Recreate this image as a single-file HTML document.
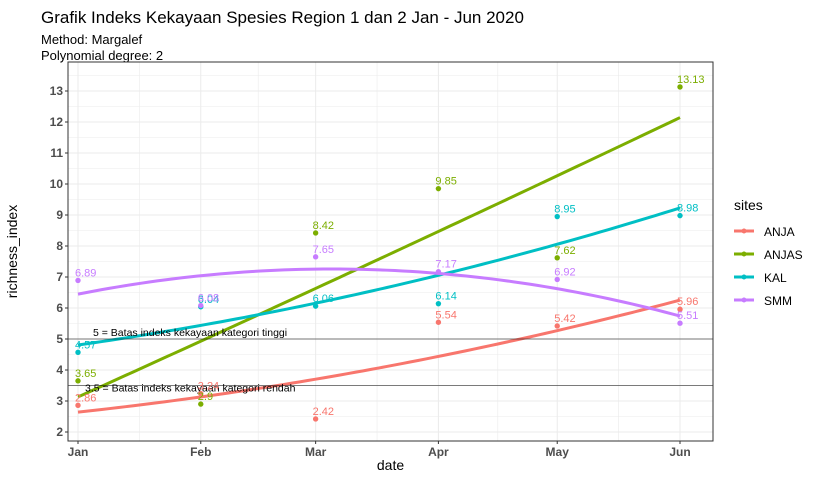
<!DOCTYPE html>
<html><head><meta charset="utf-8"><style>
body{margin:0;background:#fff;font-family:"Liberation Sans",sans-serif}
</style></head><body>
<svg id="chart" width="816" height="480" xmlns="http://www.w3.org/2000/svg">
<text x="41" y="23" font-size="17">Grafik Indeks Kekayaan Spesies Region 1 dan 2 Jan - Jun 2020</text>
<text x="41" y="44" font-size="13">Method: Margalef</text>
<text x="41" y="60" font-size="13">Polynomial degree: 2</text>
<g id="plot"></g>
</svg>
<script>
const months=["Jan","Feb","Mar","Apr","May","Jun"];
const days=[0,31,60,91,121,152];
const siteNames=["ANJA","ANJAS","KAL","SMM"];
const colors=["#F8766D","#7CAE00","#00BFC4","#C77CFF"];
const anja=[2.86,3.24,2.42,5.54,5.42,5.96];
const anjas=[3.65,2.9,8.42,9.85,7.62,13.13];
const kal=[4.57,6.04,6.06,6.14,8.95,8.98];
const smm=[6.89,6.08,7.65,7.17,6.92,5.51];
const yTicks=[2,3,4,5,6,7,8,9,10,11,12,13];
const refLines=[5,3.5];
const refLabels=["5 = Batas indeks kekayaan kategori tinggi","3.5 = Batas indeks kekayaan kategori rendah"];
const series=[anja,anjas,kal,smm];
const L=68,R=713,T=62,B=441;
const x=d=>78+d*(680-78)/152;
const y=v=>432-(v-2)*31;
const NS="http://www.w3.org/2000/svg";
const g=document.getElementById('plot');
function el(t,a,p){const e=document.createElementNS(NS,t);for(const k in a)e.setAttribute(k,a[k]);(p||g).appendChild(e);return e;}
const grid=el('g',{});


for(let v=1.5;v<=13.5;v+=0.5){if(y(v)<T||y(v)>B)continue;el('line',{x1:L,x2:R,y1:y(v),y2:y(v),stroke:'#ebebeb','stroke-width':Number.isInteger(v)?1:0.6},grid);}
for(let i=0;i<days.length;i++){el('line',{x1:x(days[i]),x2:x(days[i]),y1:T,y2:B,stroke:'#ebebeb'},grid);if(i<days.length-1){const m=(days[i]+days[i+1])/2;el('line',{x1:x(m),x2:x(m),y1:T,y2:B,stroke:'#ebebeb','stroke-width':0.6},grid);}}
yTicks.forEach(v=>{const t=el('text',{x:L-5,y:y(v)+4,'text-anchor':'end','font-size':12,fill:'#4d4d4d','font-weight':'bold'});t.textContent=v;


el('line',{x1:L-3,x2:L,y1:y(v),y2:y(v),stroke:'#333'});});
months.forEach((m,i)=>{const t=el('text',{x:x(days[i]),y:B+15,'text-anchor':'middle','font-size':12,fill:'#4d4d4d','font-weight':'bold'});t.textContent=m;


el('line',{x1:x(days[i]),x2:x(days[i]),y1:B,y2:B+3,stroke:'#333'});});
// quadratic fits
function fit(ys){let S=[0,0,0,0,0],Ty=[0,0,0];days.forEach((d,i)=>{const t=d/100;for(let k=0;k<5;k++)S[k]+=t**k;for(let k=0;k<3;k++)Ty[k]+=ys[i]*t**k;});
const A=[[S[0],S[1],S[2],Ty[0]],[S[1],S[2],S[3],Ty[1]],[S[2],S[3],S[4],Ty[2]]];
for(let i=0;i<3;i++){for(let j=i+1;j<3;j++){const f=A[j][i]/A[i][i];for(let k=i;k<4;k++)A[j][k]-=f*A[i][k];}}
const c=[0,0,0];for(let i=2;i>=0;i--){let s=A[i][3];for(let k=i+1;k<3;k++)s-=A[i][k]*c[k];c[i]=s/A[i][i];}
return d=>{const t=d/100;return c[0]+c[1]*t+c[2]*t*t;};}
series.forEach((ys,si)=>{const f=fit(ys);let p='';for(let d=0;d<=152;d+=2)p+=(d?'L':'M')+x(d)+','+y(f(d));
const l=el('path',{d:p,fill:'none',stroke:colors[si],'stroke-width':3});


});
refLines.forEach((v,i)=>{el('line',{x1:L,x2:R,y1:y(v),y2:y(v),stroke:'#000','stroke-width':0.6});
const t=el('text',{x:i?85:93,y:y(v)-3+(i?9:0),'font-size':10.5});t.textContent=refLabels[i];

});
series.forEach((ys,si)=>{ys.forEach((v,i)=>{const c=el('circle',{cx:x(days[i]),cy:y(v),r:2.7,fill:colors[si]});


const t=el('text',{x:x(days[i])-3,y:y(v)-4,'font-size':11,fill:colors[si]});t.textContent=v;

});});
el('rect',{x:L,y:T,width:R-L,height:B-T,fill:'none',stroke:'#333','stroke-width':1});
let t=el('text',{x:(L+R)/2,y:470,'text-anchor':'middle','font-size':14});t.textContent='date';

t=el('text',{x:0,y:0,'text-anchor':'middle','font-size':14,transform:`translate(17,${(T+B)/2}) rotate(-90)`});t.textContent='richness_index';

t=el('text',{x:734,y:210,'font-size':14});t.textContent='sites';

siteNames.forEach((n,i)=>{const yy=231+i*23;const lg=el('g',{});


el('line',{x1:734,x2:754,y1:yy,y2:yy,stroke:colors[i],'stroke-width':3},lg);
el('circle',{cx:744,cy:yy,r:2.5,fill:colors[i]},lg);
const tt=el('text',{x:764,y:yy+5,'font-size':12},lg);tt.textContent=n;});
</script>
</body></html>
